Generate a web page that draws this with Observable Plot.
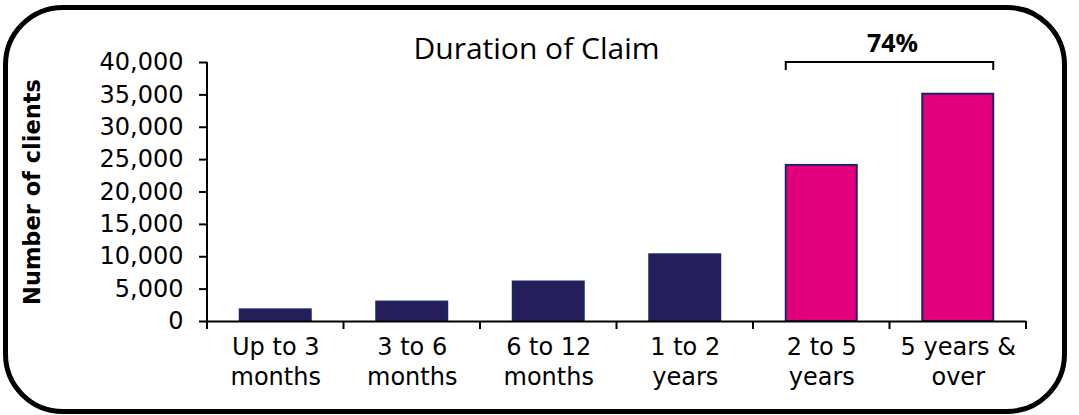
<!DOCTYPE html>
<html><head><meta charset="utf-8">
<script src="https://cdn.jsdelivr.net/npm/d3@7"></script>
<script src="https://cdn.jsdelivr.net/npm/@observablehq/plot@0.6"></script>
<style>
html,body{margin:0;padding:0;background:#fff;}
#wrap{position:relative;width:1079px;height:415px;overflow:hidden;}
#border{position:absolute;left:3px;top:5px;width:1064px;height:409px;box-sizing:border-box;border:5px solid #000;border-radius:60px;}
#title{position:absolute;left:0;top:33px;width:1073px;text-align:center;font-family:"Open Sans";font-size:30px;line-height:30px;color:#000;white-space:nowrap;}
#chart{position:absolute;left:0;top:0;}
</style></head>
<body><div id="wrap"><div id="border"></div><div id="chart"></div><div id="title">Duration of Claim</div></div>
<script>
const categories = ["Up to 3\nmonths","3 to 6\nmonths","6 to 12\nmonths","1 to 2\nyears","2 to 5\nyears","5 years &\nover"];
const clients = [1800, 3000, 6100, 10300, 24100, 35100];
const highlighted = [false, false, false, false, true, true];
const yTicks = [0, 5000, 10000, 15000, 20000, 25000, 30000, 35000, 40000];
const bracketCategories = ["2 to 5\nyears", "5 years &\nover"];
const bracketLabel = "74%";
const yLabel = "Number of clients";

const navy = "#261e5b", pink = "#e4007c", edge = "#1b2566";
const data = categories.map((c, i) => ({category: c, clients: clients[i], highlight: highlighted[i]}));

function axesAndBracket(index, scales, values, dimensions) {
  const x = scales.x, y = scales.y;
  const {marginLeft} = dimensions;
  const step = x(categories[1]) - x(categories[0]);
  const bw = typeof x.bandwidth === "function" ? x.bandwidth() : x.bandwidth;
  const y0 = y(0), yTop = y(yTicks[yTicks.length - 1]);
  const g = d3.create("svg:g");
  const lines = g.append("g").attr("stroke", "#000").attr("stroke-width", 2).attr("fill", "none");
  lines.append("line").attr("x1", marginLeft).attr("x2", marginLeft).attr("y1", yTop).attr("y2", y0);
  for (let i = 0; i <= categories.length; i++) {
    const xi = marginLeft + i * step;
    lines.append("line").attr("x1", xi).attr("x2", xi).attr("y1", y0).attr("y2", y0 + 8);
  }
  const bx1 = x(bracketCategories[0]);
  const bx2 = x(bracketCategories[1]) + bw;
  lines.append("path").attr("d", `M${bx1},${yTop + 8}V${yTop}H${bx2}V${yTop + 8}`);
  g.append("text")
    .attr("x", (bx1 + bx2) / 2 + 3).attr("y", yTop - 10)
    .attr("text-anchor", "middle")
    .attr("font-family", "Open Sans").attr("font-weight", "bold").attr("font-size", 25)
    .attr("fill", "#000")
    .text(bracketLabel);
  return g.node();
}

const chart = Plot.plot({
  width: 1079,
  height: 415,
  marginLeft: 207,
  marginRight: 53,
  marginTop: 62,
  marginBottom: 94,
  style: {fontFamily: "DejaVu Sans", color: "#000", background: "transparent", overflow: "visible"},
  x: {domain: categories, paddingInner: 0.48, paddingOuter: 0.24, round: false},
  y: {domain: [0, 40000]},
  color: {type: "identity"},
  marks: [
    Plot.barY(data, {x: "category", y: "clients", fill: d => d.highlight ? pink : navy, stroke: edge, strokeWidth: 2}),
    Plot.ruleY([0], {stroke: "#000", strokeWidth: 2}),
    Plot.axisY({ticks: yTicks, tickFormat: d3.format(","), tickSize: 8, tickPadding: 16, fontSize: 24, strokeWidth: 2, label: null}),
    Plot.axisX({tickSize: 0, tickPadding: 12, fontSize: 24, lineHeight: 1.25, label: null}),
    Plot.text([yLabel], {frameAnchor: "left", dx: -175, rotate: -90, fontWeight: "bold", fontSize: 22.5, textAnchor: "middle", lineAnchor: "middle"}),
    axesAndBracket
  ]
});
document.getElementById("chart").appendChild(chart);
</script>
</body></html>
